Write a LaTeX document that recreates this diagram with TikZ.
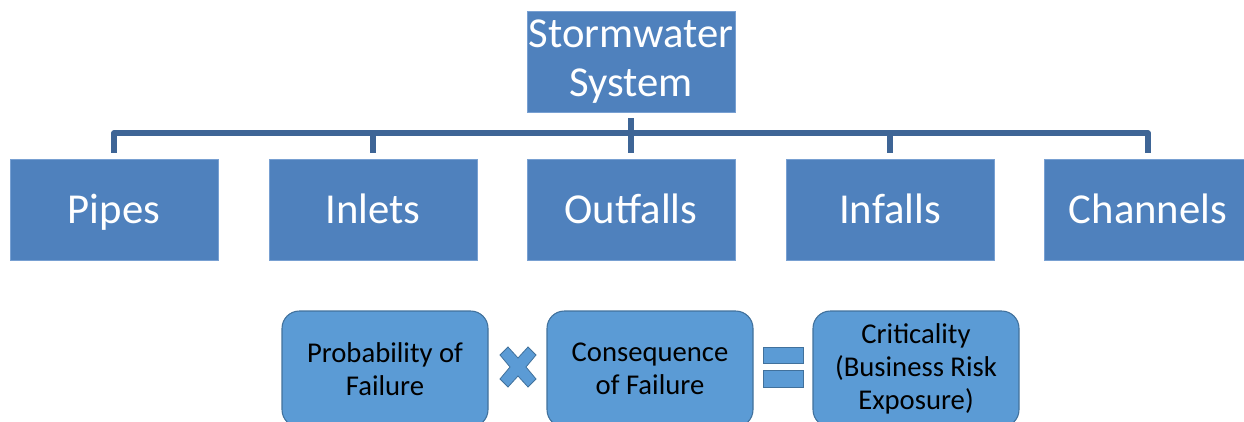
\documentclass[tikz,border=0pt]{standalone}
\usepackage{fontspec}
\setmainfont{Carlito}
\usepackage{xcolor}
\usetikzlibrary{calc}
\definecolor{box_blue}{RGB}{79,129,189}
\definecolor{box_edge}{RGB}{120,160,210}
\definecolor{link_blue}{RGB}{62,101,150}
\definecolor{calc_blue}{RGB}{91,155,213}
\definecolor{calc_edge}{RGB}{65,113,156}

\tikzset{
    unit/.style={fill=box_blue, draw=box_edge, line width=0.6pt, text=white,
        minimum width=156pt, minimum height=75.75pt, inner sep=0pt,
        align=center, font=\fontsize{32}{36.5}\selectfont},
    leaf/.style={unit, text height=24pt, text depth=3.75pt},
    link/.style={draw=link_blue, line width=3.8pt, line join=round, line cap=butt},
    term/.style={fill=calc_blue, draw=calc_edge, line width=0.8pt, rounded corners=13pt,
        minimum width=154.5pt, minimum height=87pt, inner sep=0pt,
        align=center, font=\fontsize{21.5}{24.5}\selectfont},
    sign/.style={fill=calc_blue, draw=calc_edge, line width=0.6pt}
}

\begin{document}
\begin{tikzpicture}[x=0.75pt, y=-0.75pt]
    \clip (0,0) rectangle (1244,421);
    % Hierarchy
    \node[unit] (system) at (631,61.5) {Stormwater\\System};
    \node[leaf] (pipes) at (114,209.5) {Pipes};
    \node[leaf] (inlets) at (373,209.5) {Inlets};
    \node[leaf] (outfalls) at (631,209.5) {Outfalls};
    \node[leaf] (infalls) at (890,209.5) {Infalls};
    \node[leaf] (channels) at (1148,209.5) {Channels};
    \coordinate (bus) at (631,133);
    \draw[link, shorten <=4.5pt, shorten >=4.5pt] (system.south) -- (outfalls.north);
    \foreach \n in {pipes,inlets,infalls,channels}
        \draw[link] ([yshift=4.5pt]\n.north) |- (bus);
    % Criticality
    \node[term] (pof) at (385,369) {Probability of\\Failure};
    \node[term] (cof) at (650,369) {Consequence\\of Failure};
    \node[term] (crit) at (916,369) {Criticality\\(Business Risk\\Exposure)};
    % Times
    \filldraw[sign, shift={(518,367)}] (-18,-12) -- (-10,-20) -- (0,-9) -- (10,-20) -- (18,-12)
        -- (8,0) -- (18,12) -- (10,20) -- (0,9) -- (-10,20) -- (-18,12) -- (-8,0) -- cycle;
    % Equals
    \filldraw[sign] (763,347) rectangle (803,363);
    \filldraw[sign] (763,370) rectangle (803,387);
\end{tikzpicture}
\end{document}
